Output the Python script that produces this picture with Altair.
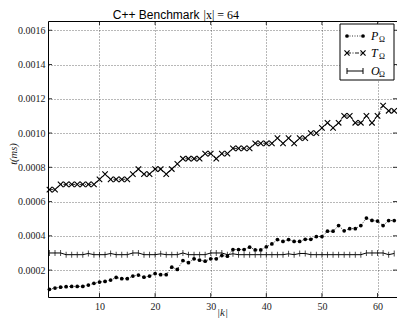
import altair as alt
import pandas as pd

k = list(range(1, 64))

P = [0.000088, 0.000095, 0.000100, 0.000103, 0.000105, 0.000105, 0.000105, 0.000113, 0.000123, 0.000130,
     0.000134, 0.000142, 0.000157, 0.000150, 0.000150, 0.000165, 0.000171, 0.000159, 0.000165, 0.000180,
     0.000173, 0.000173, 0.000217, 0.000204, 0.000256, 0.000243, 0.000266, 0.000258, 0.000252, 0.000266,
     0.000266, 0.000285, 0.000281, 0.000320, 0.000320, 0.000320, 0.000334, 0.000318, 0.000318, 0.000336,
     0.000353, 0.000378, 0.000367, 0.000378, 0.000367, 0.000367, 0.000380, 0.000380, 0.000396, 0.000396,
     0.000427, 0.000427, 0.000460, 0.000429, 0.000442, 0.000442, 0.000460, 0.000504, 0.000490, 0.000486,
     0.000460, 0.000489, 0.000489]

T = [0.00067, 0.00067, 0.00070, 0.00070, 0.00070, 0.00070, 0.00070, 0.00070, 0.00070, 0.00073,
     0.00076, 0.00073, 0.00073, 0.00073, 0.00073, 0.00076, 0.00079, 0.00076, 0.00076, 0.00079,
     0.00079, 0.00076, 0.00079, 0.00082, 0.00085, 0.00085, 0.00085, 0.00085, 0.00088, 0.00088,
     0.00085, 0.00088, 0.00088, 0.00091, 0.00091, 0.00091, 0.00091, 0.00094, 0.00094, 0.00094,
     0.00094, 0.00097, 0.00094, 0.00097, 0.00094, 0.00097, 0.00097, 0.00100, 0.00100, 0.00103,
     0.00106, 0.00103, 0.00106, 0.00110, 0.00110, 0.00106, 0.00106, 0.00110, 0.00106, 0.00110,
     0.00116, 0.00113, 0.00113]

O = [0.000300, 0.000300, 0.000300, 0.000290, 0.000290, 0.000290, 0.000290, 0.000297, 0.000290, 0.000290,
     0.000290, 0.000297, 0.000290, 0.000290, 0.000290, 0.000300, 0.000300, 0.000290, 0.000290, 0.000290,
     0.000295, 0.000290, 0.000290, 0.000290, 0.000300, 0.000290, 0.000290, 0.000290, 0.000290, 0.000300,
     0.000300, 0.000300, 0.000290, 0.000295, 0.000290, 0.000290, 0.000290, 0.000290, 0.000290, 0.000290,
     0.000290, 0.000290, 0.000290, 0.000295, 0.000290, 0.000297, 0.000297, 0.000290, 0.000290, 0.000290,
     0.000290, 0.000290, 0.000290, 0.000290, 0.000290, 0.000290, 0.000290, 0.000300, 0.000300, 0.000300,
     0.000300, 0.000290, 0.000297]

x_ticks = [10, 20, 30, 40, 50, 60]
y_ticks = [0.0002, 0.0004, 0.0006, 0.0008, 0.0010, 0.0012, 0.0014, 0.0016]

df = pd.DataFrame({"k": k, "P": P, "T": T, "O": O})
one = pd.DataFrame({"a": [0]})
xt = pd.DataFrame({"xv": x_ticks})
yt = pd.DataFrame({"yv": y_ticks})

SERIF = "Liberation Serif"
W, H = 349, 276
xs = alt.Scale(domain=[0.74, 63.5], nice=False, zero=False)
ys = alt.Scale(domain=[0.000043, 0.001654], nice=False, zero=False)

X_AXIS = alt.Axis(
    values=x_ticks, format="d", title=None, grid=True, ticks=False, domain=False,
    labelFont=SERIF, labelFontSize=10, labelColor="#222", labelPadding=4,
    gridColor="black", gridDash=[1, 2], gridWidth=0.7, gridOpacity=0.8)

Y_AXIS = alt.Axis(
    values=y_ticks, format=".4f", title=None, grid=True, ticks=False, domain=False,
    labelFont=SERIF, labelFontSize=10, labelColor="#222", labelPadding=3,
    gridColor="black", gridDash=[1, 2], gridWidth=0.7, gridOpacity=0.8)

X = alt.X("k:Q", scale=xs, axis=X_AXIS)


def Y(field):
    return alt.Y(f"{field}:Q", scale=ys, axis=Y_AXIS)


base = alt.Chart(df)
XSHAPE = "M-1,-1L1,1M-1,1L1,-1"

p_line = base.mark_line(color="black", strokeWidth=0.8, strokeDash=[1, 1.5]).encode(x=X, y=Y("P"))
p_pts = base.mark_circle(color="black", size=14, opacity=1).encode(x=X, y=Y("P"))
t_line = base.mark_line(color="black", strokeWidth=0.8, strokeDash=[4, 1.5, 1, 1.5]).encode(x=X, y=Y("T"))
t_pts = base.mark_point(shape=XSHAPE, size=30, filled=False, strokeWidth=1.1, color="black", opacity=1).encode(
    x=X, y=Y("T"))
o_line = base.mark_line(color="black", strokeWidth=1).encode(x=X, y=Y("O"))
o_ticks = base.mark_tick(orient="vertical", size=6, thickness=1, color="black").encode(x=X, y=Y("O"))

# inward ticks on all four sides
XT = alt.X("xv:Q", scale=xs, axis=X_AXIS)
YT = alt.Y("yv:Q", scale=ys, axis=Y_AXIS)
in_ticks = [
    alt.Chart(xt).mark_rule(color="black", strokeWidth=0.8).encode(x=XT, y=alt.value(H - 4), y2=alt.value(H)),
    alt.Chart(xt).mark_rule(color="black", strokeWidth=0.8).encode(x=XT, y=alt.value(0), y2=alt.value(4)),
    alt.Chart(yt).mark_rule(color="black", strokeWidth=0.8).encode(y=YT, x=alt.value(0), x2=alt.value(4)),
    alt.Chart(yt).mark_rule(color="black", strokeWidth=0.8).encode(y=YT, x=alt.value(W - 4), x2=alt.value(W)),
]

leg = alt.Chart(one)
bx0, bx1 = W - 57, W - 3
lx0, lx1 = bx0 + 7, bx0 + 23
ry = [15, 32, 50]
legend = [
    leg.mark_rect(fill="white", stroke="black", strokeWidth=1).encode(
        x=alt.value(bx0), x2=alt.value(bx1), y=alt.value(3), y2=alt.value(59)),
    leg.mark_rule(color="black", strokeWidth=0.8, strokeDash=[1, 1.5]).encode(
        x=alt.value(lx0), x2=alt.value(lx1), y=alt.value(ry[0])),
    leg.mark_circle(color="black", size=14, opacity=1).encode(x=alt.value(lx0), y=alt.value(ry[0])),
    leg.mark_circle(color="black", size=14, opacity=1).encode(x=alt.value(lx1), y=alt.value(ry[0])),
    leg.mark_rule(color="black", strokeWidth=0.9, strokeDash=[4, 1.5, 1, 1.5]).encode(
        x=alt.value(lx0), x2=alt.value(lx1), y=alt.value(ry[1])),
    leg.mark_point(shape=XSHAPE, size=26, filled=False, strokeWidth=1.2, color="black", opacity=1).encode(
        x=alt.value(lx0), y=alt.value(ry[1])),
    leg.mark_point(shape=XSHAPE, size=26, filled=False, strokeWidth=1.2, color="black", opacity=1).encode(
        x=alt.value(lx1), y=alt.value(ry[1])),
    leg.mark_rule(color="black", strokeWidth=1).encode(
        x=alt.value(lx0), x2=alt.value(lx1), y=alt.value(ry[2])),
    leg.mark_rule(color="black", strokeWidth=1).encode(
        x=alt.value(lx0), y=alt.value(ry[2] - 3), y2=alt.value(ry[2] + 3)),
    leg.mark_rule(color="black", strokeWidth=1).encode(
        x=alt.value(lx1), y=alt.value(ry[2] - 3), y2=alt.value(ry[2] + 3)),
]
for name, yy in zip(["P", "T", "O"], ry):
    legend.append(leg.mark_text(font=SERIF, fontSize=12, fontStyle="italic", align="left", baseline="middle",
                                color="black").encode(x=alt.value(bx0 + 31), y=alt.value(yy), text=alt.value(name)))
    legend.append(leg.mark_text(font=SERIF, fontSize=8, align="left", baseline="middle",
                                color="black").encode(x=alt.value(bx0 + 39), y=alt.value(yy + 4), text=alt.value("Ω")))

texts = [
    leg.mark_text(font="Liberation Sans", fontSize=12, align="right", baseline="alphabetic", color="black").encode(
        x=alt.value(W / 2 - 23), y=alt.value(-2), text=alt.value("C++ Benchmark")),
    leg.mark_text(font=SERIF, fontSize=12, align="left", baseline="alphabetic", color="black").encode(
        x=alt.value(W / 2 - 19), y=alt.value(-2), text=alt.value("|x| = 64")),
    leg.mark_text(font=SERIF, fontSize=10.5, fontStyle="italic", align="center", baseline="middle",
                  color="#222", angle=270).encode(
        x=alt.value(-34), y=alt.value(H / 2 - 5), text=alt.value("t(ms)")),
    leg.mark_text(font=SERIF, fontSize=11, fontStyle="italic", align="center", baseline="middle",
                  color="#222").encode(
        x=alt.value(W / 2), y=alt.value(H + 16), text=alt.value("|k|")),
]

chart = alt.layer(p_line, p_pts, t_line, t_pts, o_line, o_ticks, *in_ticks, *legend, *texts).properties(
    width=W, height=H,
    autosize=alt.AutoSizeParams(type="none"),
    padding={"left": 40, "top": 13, "right": 0, "bottom": 23},
).configure_view(stroke="black", strokeWidth=1)

chart.save("out.html", embed_options={"renderer": "svg", "actions": False})
